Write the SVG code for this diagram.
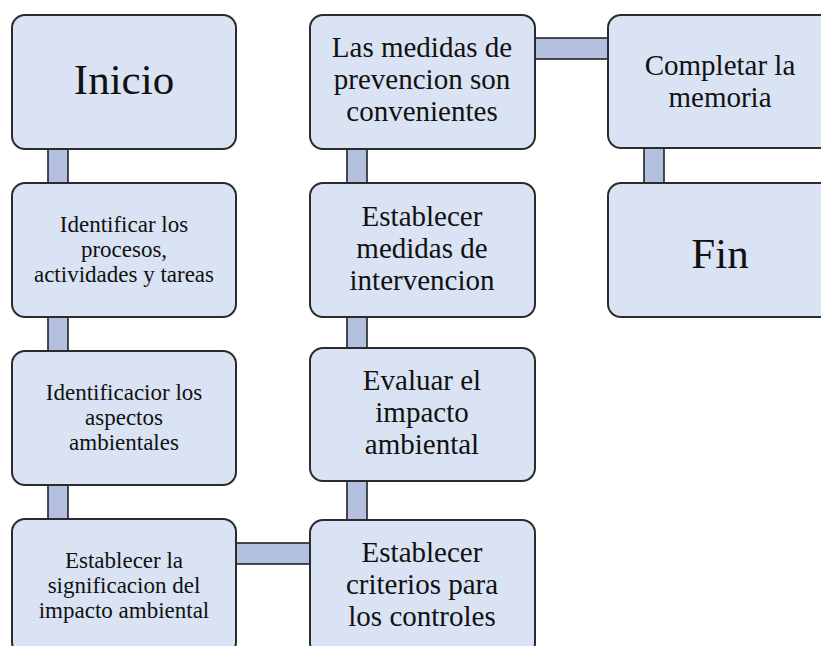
<svg xmlns="http://www.w3.org/2000/svg" width="821" height="646" viewBox="0 0 821 646" font-family="'Liberation Serif', 'Times New Roman', Times, 'DejaVu Serif', serif">
<style>
.box{fill:#dae3f3;stroke:#2b2b2b;stroke-width:2}
.con{fill:#b3c0e0;stroke:#222;stroke-width:1.6}
text{fill:#111;text-anchor:middle}
.s{font-size:23px}
.m{font-size:29px}
.l{font-size:43px}
</style>
<rect width="821" height="646" fill="#fff"/>
<g id="connectors">
<rect class="con" x="48" y="146" width="20" height="40"/>
<rect class="con" x="48" y="314" width="20" height="40"/>
<rect class="con" x="48" y="482" width="20" height="40"/>
<rect class="con" x="233" y="543" width="80" height="21"/>
<rect class="con" x="347" y="146" width="20" height="40"/>
<rect class="con" x="347" y="314" width="20" height="37"/>
<rect class="con" x="347" y="478" width="20" height="45"/>
<rect class="con" x="532" y="38" width="79" height="21"/>
<rect class="con" x="644" y="145" width="20" height="41"/>
</g>
<g id="n1"><rect class="box" x="12" y="15" width="224" height="134" rx="13"/><text class="l" x="124" y="94">Inicio</text></g>
<g id="n2"><rect class="box" x="12" y="183" width="224" height="134" rx="13"/>
<text class="s" x="124" y="232">Identificar los</text><text class="s" x="124" y="257">procesos,</text><text class="s" x="124" y="282">actividades y tareas</text></g>
<g id="n3"><rect class="box" x="12" y="351" width="224" height="134" rx="13"/>
<text class="s" x="124" y="400">Identificacior los</text><text class="s" x="124" y="425">aspectos</text><text class="s" x="124" y="450">ambientales</text></g>
<g id="n4"><rect class="box" x="12" y="519" width="224" height="136" rx="13"/>
<text class="s" x="124" y="568">Establecer la</text><text class="s" x="124" y="593">significacion del</text><text class="s" x="124" y="618">impacto ambiental</text></g>
<g id="n5"><rect class="box" x="310" y="520" width="225" height="136" rx="13"/>
<text class="m" x="422" y="562">Establecer</text><text class="m" x="422" y="594">criterios para</text><text class="m" x="422" y="626">los controles</text></g>
<g id="n6"><rect class="box" x="310" y="348" width="225" height="133" rx="13"/>
<text class="m" x="422" y="390">Evaluar el</text><text class="m" x="422" y="422">impacto</text><text class="m" x="422" y="454">ambiental</text></g>
<g id="n7"><rect class="box" x="310" y="183" width="225" height="134" rx="13"/>
<text class="m" x="422" y="226">Establecer</text><text class="m" x="422" y="258">medidas de</text><text class="m" x="422" y="290">intervencion</text></g>
<g id="n8"><rect class="box" x="310" y="15" width="225" height="134" rx="13"/>
<text class="m" x="422" y="57">Las medidas de</text><text class="m" x="422" y="89">prevencion son</text><text class="m" x="422" y="121">convenientes</text></g>
<g id="n9"><rect class="box" x="608" y="15" width="225" height="133" rx="13"/>
<text class="m" x="720" y="75">Completar la</text><text class="m" x="720" y="107">memoria</text></g>
<g id="n10"><rect class="box" x="608" y="183" width="225" height="134" rx="13"/><text class="l" x="720" y="268">Fin</text></g>
</svg>
